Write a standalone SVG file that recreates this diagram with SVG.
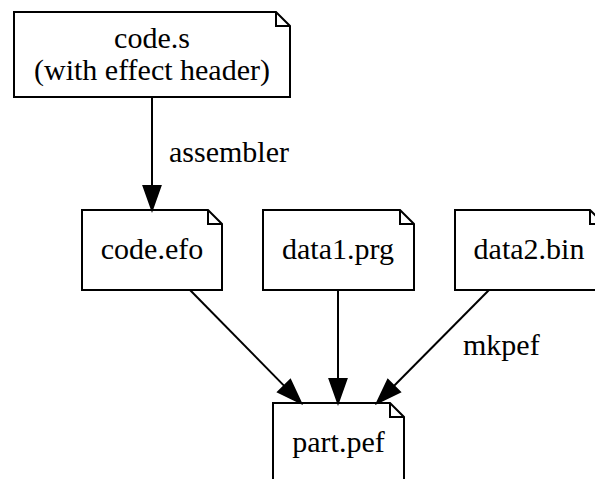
<svg xmlns="http://www.w3.org/2000/svg" width="595" height="479" viewBox="0 0 595 479">
<style>
.nb{fill:#fff;stroke:#000;stroke-width:2}
.fold{fill:none;stroke:#000;stroke-width:2}
.t{font-family:'Liberation Serif', 'Times New Roman', Times, serif;font-size:30px;fill:#000}
.c{text-anchor:middle}
.e{stroke:#000;stroke-width:2;fill:none}
.ah{fill:#000;stroke:#000;stroke-width:2}
</style>
<rect width="595" height="479" fill="#fff"/>
<g id="code_s">
<polygon class="nb" points="14,12 276,12 290,26 290,97 14,97"/>
<polyline class="fold" points="276,12 276,26 290,26"/>
<text class="t c" font-family="Liberation Serif" x="152" y="48">code.s</text>
<text class="t c" font-family="Liberation Serif" x="152" y="80">(with effect header)</text>
</g>
<g id="code_efo">
<polygon class="nb" points="82,210 208,210 222,224 222,290 82,290"/>
<polyline class="fold" points="208,210 208,224 222,224"/>
<text class="t c" font-family="Liberation Serif" x="152" y="259">code.efo</text>
</g>
<g id="data1_prg">
<polygon class="nb" points="263,210 400,210 414,224 414,290 263,290"/>
<polyline class="fold" points="400,210 400,224 414,224"/>
<text class="t c" font-family="Liberation Serif" x="338" y="259">data1.prg</text>
</g>
<g id="data2_bin">
<polygon class="nb" points="455,210 590,210 604,224 604,290 455,290"/>
<polyline class="fold" points="590,210 590,224 604,224"/>
<text class="t c" font-family="Liberation Serif" x="529" y="259">data2.bin</text>
</g>
<g id="part_pef">
<polygon class="nb" points="273,403 390,403 404,417 404,490 273,490"/>
<polyline class="fold" points="390,403 390,417 404,417"/>
<text class="t c" font-family="Liberation Serif" x="338.5" y="452">part.pef</text>
</g>
<g id="edges">
<line class="e" x1="152" y1="97" x2="152" y2="186"/>
<polygon class="ah" points="152,210 143.5,186 160.5,186"/>
<text class="t" font-family="Liberation Serif" x="169" y="162">assembler</text>
<line class="e" x1="190" y1="290" x2="284.2" y2="385.9"/>
<polygon class="ah" points="301,403 278.1,391.9 290.3,379.9"/>
<line class="e" x1="338" y1="290" x2="338" y2="379"/>
<polygon class="ah" points="338,403 329.5,379 346.5,379"/>
<line class="e" x1="489" y1="290" x2="393.9" y2="386"/>
<polygon class="ah" points="377,403 399.9,392 387.9,380"/>
<text class="t" font-family="Liberation Serif" x="463" y="355">mkpef</text>
</g>
</svg>
